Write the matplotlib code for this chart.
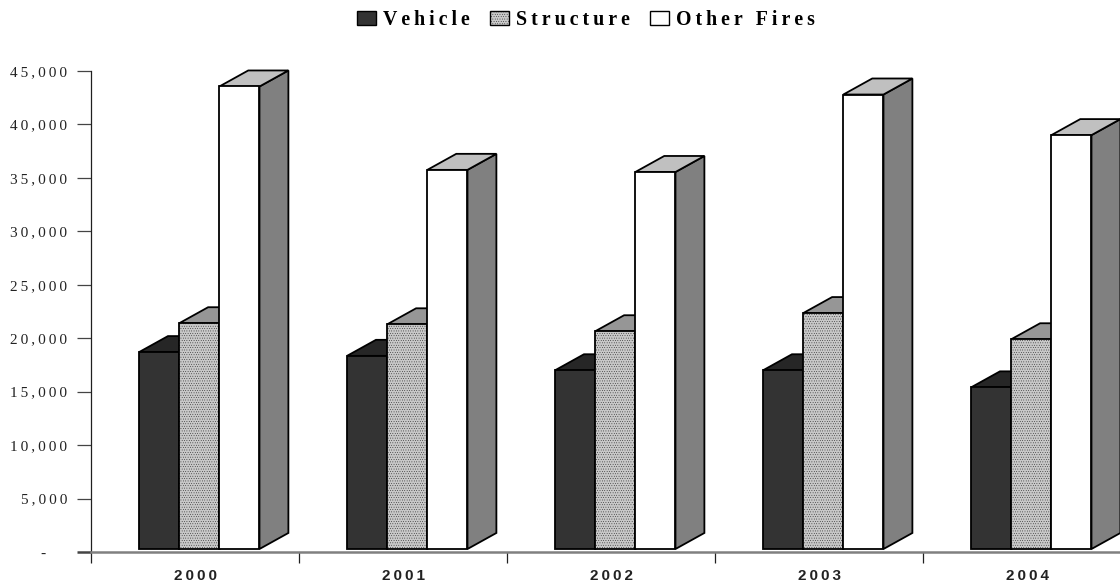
import matplotlib.pyplot as plt
from matplotlib.patches import Patch, Polygon

years = ['2000', '2001', '2002', '2003', '2004']
vehicle = [18700, 18350, 17000, 17000, 15400]
structure = [21400, 21300, 20650, 22350, 19900]
other_fires = [43550, 35750, 35550, 42800, 39000]
series_names = ['Vehicle', 'Structure', 'Other Fires']
y_ticks = [0, 5000, 10000, 15000, 20000, 25000, 30000, 35000, 40000, 45000]

# letter spaced text, the original has wide tracking
def spaced(s):
    return '\u2009'.join(s)

plt.rcParams['font.family'] = ['Liberation Serif', 'DejaVu Sans']
plt.rcParams['hatch.linewidth'] = 0.2
plt.rcParams['hatch.color'] = '#b0b0b0'

fig = plt.figure(figsize=(11.2, 5.84), dpi=100)
ax = fig.add_axes([91 / 1120, 1 - 552 / 584, 1029 / 1120, 481 / 584])
ax.set_xlim(0, 1029 / 208)
ax.set_ylim(0, 45000)

# fake 3d bars: front, top, side
bar_w = 0.193
start = 0.231
dx = 0.139
dy = 1500
base = 280
front_cols = ['#333333', '#c8c8c8', 'white']
top_cols = ['#262626', '#969696', '#c0c0c0']
side_cols = ['#262626', '#969696', '#808080']
hatches = [None, '.......', None]

for i in range(len(years)):
    for j, vals in enumerate([vehicle, structure, other_fires]):
        x0 = i + start + j * bar_w
        x1 = x0 + bar_w
        v = vals[i]
        side = [(x1, base), (x1 + dx, base + dy), (x1 + dx, v + dy), (x1, v)]
        top = [(x0, v), (x0 + dx, v + dy), (x1 + dx, v + dy), (x1, v)]
        front = [(x0, base), (x0, v), (x1, v), (x1, base)]
        ax.add_patch(Polygon(side, facecolor=side_cols[j], edgecolor='black', lw=1.3, clip_on=False, zorder=3))
        ax.add_patch(Polygon(top, facecolor=top_cols[j], edgecolor='black', lw=1.3, clip_on=False, zorder=3))
        ax.add_patch(Polygon(front, facecolor=front_cols[j], edgecolor='black', lw=1.3, hatch=hatches[j], clip_on=False, zorder=3))

for s in ['top', 'right']:
    ax.spines[s].set_visible(False)
ax.spines['left'].set_linewidth(0.9)
ax.spines['left'].set_color('#202020')
ax.spines['bottom'].set_linewidth(1.8)
ax.spines['bottom'].set_color('#808080')

ax.set_yticks(y_ticks)
ax.set_yticklabels(['-\u2009\u2009\u2009\u2009\u2009\u2009\u2009'] + [spaced(f'{t:,}') for t in y_ticks[1:]], fontsize=11, color='#222222')
ax.tick_params(axis='y', length=10, width=0.9, color='#444444', pad=7)
t0 = ax.yaxis.get_major_ticks()[0]
t0.tick1line.set_color('#808080')
t0.tick1line.set_markeredgewidth(1.8)

ax.set_xticks(range(5))
ax.set_xticklabels([])
ax.tick_params(axis='x', which='major', length=8, width=0.9, color='#202020')
ax.set_xticks([i + 0.5 for i in range(5)], minor=True)
ax.set_xticklabels([spaced(y) for y in years], minor=True, family=['Liberation Sans', 'DejaVu Sans'],
                   fontweight='bold', fontsize=11, color='#222222')
ax.tick_params(axis='x', which='minor', length=0, pad=12)

handles = [Patch(facecolor=front_cols[k], edgecolor='black', lw=1, hatch=hatches[k]) for k in range(3)]
fig.legend(handles, [spaced(n) for n in series_names], ncol=3, frameon=False, loc='center',
           bbox_to_anchor=(586 / 1120, 1 - 20 / 584), prop={'weight': 'bold', 'size': 14.3},
           handlelength=0.95, handleheight=0.72, handletextpad=0.36, columnspacing=1.0, borderpad=0)

fig.savefig('out.png', dpi=100)
